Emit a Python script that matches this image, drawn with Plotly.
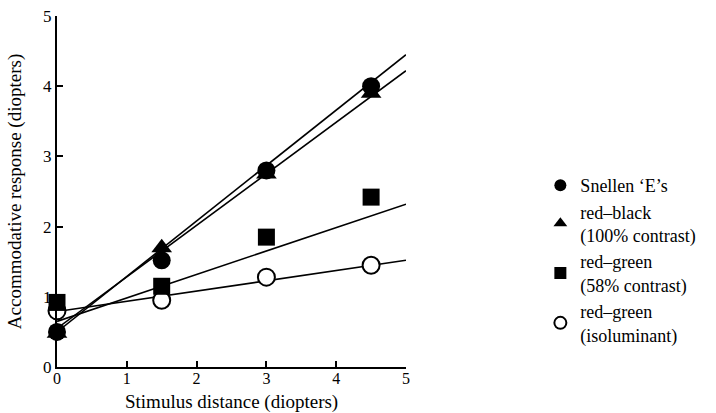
import plotly.graph_objects as go

# Data
stim = [0, 1.5, 3, 4.5]
snellen = [0.50, 1.52, 2.80, 4.00]
red_black = [0.48, 1.70, 2.75, 3.90]
rg58 = [0.92, 1.15, 1.85, 2.42]
rg_iso = [0.80, 0.95, 1.28, 1.45]

# Fitted regression lines (intercept, slope)
fit_snellen = (0.50, 0.790)
fit_red_black = (0.55, 0.734)
fit_rg58 = (0.65, 0.334)
fit_rg_iso = (0.79, 0.146)
fit_x = [0, 5]

names = ["Snellen ‘E’s", "red–black<br>(100% contrast)",
         "red–green<br>(58% contrast)", "red–green<br>(isoluminant)"]
x_title = "Stimulus distance (diopters)"
y_title = "Accommodative response (diopters)"

FONT = "Liberation Serif"
fig = go.Figure()

for a, b in [fit_snellen, fit_red_black, fit_rg58, fit_rg_iso]:
    fig.add_trace(go.Scatter(x=fit_x, y=[a + b * x for x in fit_x], mode="lines",
                             line=dict(color="black", width=1.6),
                             showlegend=False, hoverinfo="skip", cliponaxis=False))

series = [
    (rg_iso, "circle-open", names[3], 17),
    (rg58, "square", names[2], 17),
    (red_black, "triangle-up", names[1], 18),
    (snellen, "circle", names[0], 18),
]
order = {names[0]: 1, names[1]: 2, names[2]: 3, names[3]: 4}
for ys, sym, nm, sz in series:
    if sym == "circle-open":
        mk = dict(symbol="circle", size=sz, color="white", line=dict(color="black", width=2))
    else:
        mk = dict(symbol=sym, size=sz, color="black", line=dict(color="black", width=0))
    fig.add_trace(go.Scatter(x=stim, y=ys, mode="markers", name=nm,
                             legendrank=order[nm], marker=mk, cliponaxis=False))

fig.add_annotation(text=x_title, xref="paper", yref="paper", x=0.5, y=-46 / 351,
                   xanchor="center", yanchor="bottom", yshift=-1, showarrow=False,
                   borderpad=0, font=dict(family=FONT, size=19, color="black"))

fig.update_layout(
    width=716, height=413,
    margin=dict(l=57, r=310, t=16, b=46),
    paper_bgcolor="white", plot_bgcolor="white",
    font=dict(family=FONT, color="black", size=17),
    showlegend=True,
    legend=dict(x=1.385, y=0.305, xanchor="left", yanchor="middle",
                font=dict(family=FONT, size=18, color="black"),
                bgcolor="rgba(0,0,0,0)", itemsizing="constant",
                tracegroupgap=2),
    xaxis=dict(range=[0, 5], tickvals=[0, 1, 2, 3, 4, 5], ticks="inside",
               ticklen=6, tickwidth=2, tickcolor="black",
               showline=True, linecolor="black", linewidth=2,
               showgrid=False, zeroline=False, automargin=False,
               ticklabeloverflow="allow", ticklabelstandoff=-4,
               tickfont=dict(family=FONT, size=16)),
    yaxis=dict(range=[0, 5], tickvals=[0, 1, 2, 3, 4, 5], ticks="inside",
               ticklen=6, tickwidth=2, tickcolor="black",
               showline=True, linecolor="black", linewidth=2,
               showgrid=False, zeroline=False, automargin=False,
               ticklabeloverflow="allow",
               title=dict(text=y_title, standoff=16,
                          font=dict(family=FONT, size=19)),
               tickfont=dict(family=FONT, size=17)),
)

fig.write_html("out.html", config={"displayModeBar": False},
               post_script="document.body.style.margin='0';")
